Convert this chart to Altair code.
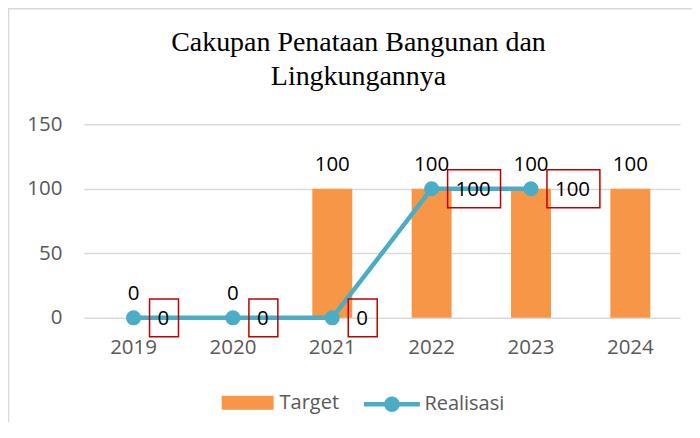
import altair as alt
import pandas as pd

years = ["2019", "2020", "2021", "2022", "2023", "2024"]
target = [0, 0, 100, 100, 100, 100]
realisasi = [0, 0, 0, 100, 100, None]
title_lines = ["Cakupan Penataan Bangunan dan", "Lingkungannya"]

BAR = "#F79646"
LINE = "#4BACC6"
FONT = "Open Sans"

df = pd.DataFrame({
    "year": years,
    "target": target,
    "real": realisasi,
    "tname": ["Target"] * len(years),
    "rname": ["Realisasi"] * len(years),
})
df["tlabel"] = [str(v) for v in target]
df["rlabel"] = [str(int(v)) if v is not None and v == v else "" for v in realisasi]

x = alt.X("year:N", sort=years,
          scale=alt.Scale(paddingInner=0, paddingOuter=0),
          axis=alt.Axis(title=None, labelAngle=0, domain=False, ticks=False,
                        labelFont=FONT, labelFontSize=20.5, labelColor="#595959",
                        labelPadding=20))
yscale = alt.Scale(domain=[0, 150], nice=False)

base = alt.Chart(df)

one = alt.Data(values=[{"a": 1}])

border = alt.Chart(one).mark_rect(
    fill=None, stroke="#D9D9D9", strokeWidth=1.5
).encode(x=alt.value(-75.5), y=alt.value(-115.5), x2=alt.value(720), y2=alt.value(400))

title = alt.Chart(one).mark_text(
    font="Liberation Serif", fontSize=28, color="black", align="center",
    baseline="alphabetic", lineHeight=34
).encode(x=alt.value(275), y=alt.value(-73), text=alt.value(title_lines))

bars = base.mark_bar(size=40).encode(
    x=x,
    y=alt.Y("target:Q", scale=yscale,
            axis=alt.Axis(title=None, values=[0, 50, 100, 150], domain=False, ticks=False,
                          gridColor="#D9D9D9", gridWidth=1.5,
                          labelFont=FONT, labelFontSize=20.5, labelColor="#595959",
                          labelPadding=22)),
    color=alt.Color("tname:N", scale=alt.Scale(domain=["Target"], range=[BAR]),
                    legend=alt.Legend(title=None, orient="none", legendX=137, legendY=252,
                                      symbolType="M-1,-0.27H1V0.27H-1Z", symbolSize=2704,
                                      labelFont=FONT, labelFontSize=20, labelColor="#595959",
                                      labelOffset=5)),
)

tlabels = base.mark_text(font=FONT, fontSize=20.5, color="black", baseline="alphabetic", dy=-18).encode(
    x=x, y=alt.Y("target:Q", scale=yscale), text="tlabel:N")

realbase = base.transform_filter("isValid(datum.real) && isFinite(datum.real)")

line = realbase.mark_line(strokeWidth=4.5).encode(
    x=x, y=alt.Y("real:Q", scale=yscale),
    stroke=alt.Stroke("rname:N", scale=alt.Scale(domain=["Realisasi"], range=[LINE]),
                      legend=alt.Legend(title=None, orient="none", legendX=278, legendY=250,
                                        symbolType="M-1,0H1M-0.2,0A0.2,0.2 0 1,0 0.2,0A0.2,0.2 0 1,0 -0.2,0",
                                        symbolSize=3136, symbolStrokeWidth=4.5,
                                        symbolFillColor=LINE,
                                        labelFont=FONT, labelFontSize=20, labelColor="#595959",
                                        labelOffset=2)),
)

points = realbase.mark_circle(size=227, opacity=1, color=LINE).encode(
    x=x, y=alt.Y("real:Q", scale=yscale))

box0 = "M16,-19H45V19H16Z"
box100 = "M16,-19H69V19H16Z"
boxes = realbase.mark_point(filled=False, size=4, strokeWidth=1.5, color="#C00000", opacity=1).encode(
    x=x, y=alt.Y("real:Q", scale=yscale),
    shape=alt.Shape("rlabel:N", scale=alt.Scale(domain=["0", "100"], range=[box0, box100]), legend=None))

rlabels = realbase.mark_text(font=FONT, fontSize=20.5, color="black", align="left",
                             baseline="alphabetic", dx=24, dy=7).encode(
    x=x, y=alt.Y("real:Q", scale=yscale), text="rlabel:N")

chart = alt.layer(border, title, bars, tlabels, line, points, boxes, rlabels).resolve_scale(
    shape="independent"
).properties(
    width=597, height=194,
    autosize=alt.AutoSizeParams(type="none"),
    padding={"left": 76, "top": 116, "right": 12, "bottom": 104},
).configure_view(stroke=None)

chart.save("out.html", embed_options={"renderer": "svg", "actions": False})
